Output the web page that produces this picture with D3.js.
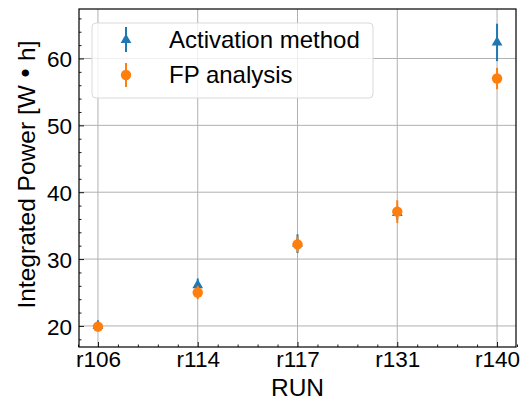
<!DOCTYPE html>
<html>
<head>
<meta charset="utf-8">
<style>
    body { margin: 0; background: #fff; }
    text { font-family: "Liberation Sans", Arial, sans-serif; fill: #000; }
    .grid line { stroke: #b0b0b0; stroke-width: 1; }
</style>
</head>
<body>
<svg id="chart" width="527" height="401"></svg>
<script src="https://cdn.jsdelivr.net/npm/d3@7"></script>
<script>
    // data
    let runs = ["r106", "r114", "r117", "r131", "r140"]
    let activation = [20.0, 26.1, 32.3, 36.9, 62.4]
    let activationErr = [0.8, 1.0, 1.4, 1.0, 2.8]
    let fpValues = [19.9, 25.0, 32.2, 37.1, 57.0]
    let fpErr = [0.4, 1.0, 1.2, 1.7, 1.6]
    let yTicks = [20, 30, 40, 50, 60]

    let svg = d3.select("#chart")
    let plotLeft = 79, plotRight = 516, plotTop = 9, plotBottom = 347

    let x = d3.scaleLinear().domain([-0.19, 4.19]).range([plotLeft, plotRight])
    let y = d3.scaleLinear().domain([16.85, 67.4]).range([plotBottom, plotTop])

    // grid
    let grid = svg.append("g").attr("class", "grid")
    grid.selectAll(".gx").data(runs).join("line")
        .attr("x1", (d, i) => x(i)).attr("x2", (d, i) => x(i))
        .attr("y1", plotTop).attr("y2", plotBottom)
    grid.selectAll(".gy").data(yTicks).join("line")
        .attr("x1", plotLeft).attr("x2", plotRight)
        .attr("y1", d => y(d)).attr("y2", d => y(d))

    // axes, ticks pointing inward
    let xAxis = svg.append("g").attr("transform", "translate(0," + plotBottom + ")")
        .call(d3.axisBottom(x).tickValues(d3.range(5)).tickFormat(i => runs[i]).tickSize(-5).tickPadding(3))
    svg.append("g").attr("transform", "translate(0," + plotBottom + ")")
        .call(d3.axisBottom(x).tickValues(d3.range(-0.2, 4.21, 0.2).filter(v => Math.abs(v - Math.round(v)) > 0.01)).tickFormat("").tickSize(-2.5))
    let yAxis = svg.append("g").attr("transform", "translate(" + plotLeft + ",0)")
        .call(d3.axisLeft(y).tickValues(yTicks).tickSize(-5).tickPadding(7))
    svg.append("g").attr("transform", "translate(" + plotLeft + ",0)")
        .call(d3.axisLeft(y).tickValues(d3.range(18, 67, 2).filter(v => v % 10 != 0)).tickFormat("").tickSize(-2.5))
    svg.selectAll(".domain").remove()
    svg.selectAll(".tick line").attr("stroke", "#000").attr("stroke-width", 0.9)
    svg.selectAll(".tick text").style("font-size", "22.5px").attr("fill", "#000")
    xAxis.selectAll(".tick text").attr("dy", "0.75em")
    yAxis.selectAll(".tick text").attr("dy", "0.36em")

    svg.append("rect").attr("x", plotLeft).attr("y", plotTop)
        .attr("width", plotRight - plotLeft).attr("height", plotBottom - plotTop)
        .attr("fill", "none").attr("stroke", "#000").attr("stroke-width", 1.2)

    // labels
    svg.append("text").attr("x", (plotLeft + plotRight) / 2).attr("y", 396)
        .attr("text-anchor", "middle").style("font-size", "24.5px").text("RUN")
    let ylab = svg.append("text").attr("transform", "translate(35,174.5) rotate(-90)")
        .attr("text-anchor", "middle").style("font-size", "24.5px")
    ylab.append("tspan").text("Integrated Power [W\u2009")
    ylab.append("tspan").style("font-family", "DejaVu Sans").text("•")
    ylab.append("tspan").text("\u2009h]")

    let blue = "#1f77b4", orange = "#ff7f0e"
    let tri = d3.symbol().type(d3.symbolTriangle).size(50)

    // activation series
    let act = svg.append("g")
    act.selectAll("line").data(activation).join("line")
        .attr("x1", (d, i) => x(i)).attr("x2", (d, i) => x(i))
        .attr("y1", (d, i) => y(d - activationErr[i])).attr("y2", (d, i) => y(d + activationErr[i]))
        .attr("stroke", blue).attr("stroke-width", 2)
    act.selectAll("path").data(activation).join("path")
        .attr("d", tri).attr("transform", (d, i) => "translate(" + x(i) + "," + y(d) + ")")
        .attr("fill", blue)

    // FP series
    let fp = svg.append("g")
    fp.selectAll("line").data(fpValues).join("line")
        .attr("x1", (d, i) => x(i)).attr("x2", (d, i) => x(i))
        .attr("y1", (d, i) => y(d - fpErr[i])).attr("y2", (d, i) => y(d + fpErr[i]))
        .attr("stroke", orange).attr("stroke-width", 2)
    fp.selectAll("circle").data(fpValues).join("circle")
        .attr("cx", (d, i) => x(i)).attr("cy", d => y(d)).attr("r", 5.2)
        .attr("fill", orange)

    // legend
    let legend = svg.append("g")
    legend.append("rect").attr("x", 92).attr("y", 23).attr("width", 281).attr("height", 75)
        .attr("rx", 4).attr("fill", "#fff").attr("fill-opacity", 0.8)
        .attr("stroke", "#d9d9d9").attr("stroke-width", 1)
    legend.append("line").attr("x1", 126).attr("x2", 126).attr("y1", 27).attr("y2", 52)
        .attr("stroke", blue).attr("stroke-width", 2)
    legend.append("path").attr("d", tri).attr("transform", "translate(126,40)").attr("fill", blue)
    legend.append("text").attr("x", 169).attr("y", 48).style("font-size", "24px").text("Activation method")
    legend.append("line").attr("x1", 126).attr("x2", 126).attr("y1", 63).attr("y2", 87)
        .attr("stroke", orange).attr("stroke-width", 2)
    legend.append("circle").attr("cx", 126).attr("cy", 75).attr("r", 5.2).attr("fill", orange)
    legend.append("text").attr("x", 169).attr("y", 83).style("font-size", "24px").text("FP analysis")
</script>
</body>
</html>
